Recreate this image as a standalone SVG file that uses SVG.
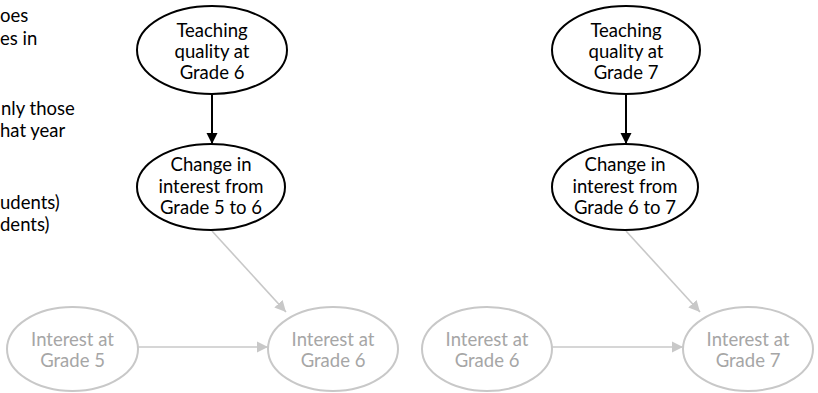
<svg xmlns="http://www.w3.org/2000/svg" width="818" height="393" viewBox="0 0 818 393">
<style>
  .t { font-family: Lato, "Liberation Sans", sans-serif; font-size: 18.5px; text-anchor: middle; }
  .dk ellipse { fill: #ffffff; stroke: #000000; stroke-width: 2; }
  .dk text { fill: #000000; }
  .lt ellipse { fill: #ffffff; stroke: #c8c8c8; stroke-width: 2; }
  .lt text { fill: #a6a6a6; }
  .side { font-family: Lato, "Liberation Sans", sans-serif; font-size: 18.5px; fill: #000000; }
  .cb { stroke: #000000; stroke-width: 2; fill: none; }
  .cg { stroke: #c8c8c8; stroke-width: 1.6; fill: none; }
</style>
<defs>
  <marker id="ab" viewBox="0 0 10 10" refX="10" refY="5" markerWidth="5.5" markerHeight="6.5" markerUnits="strokeWidth" orient="auto">
    <path d="M0,0 L10,5 L0,10 z" fill="#000000"/>
  </marker>
  <marker id="ag" viewBox="0 0 10 10" refX="10" refY="5" markerWidth="7" markerHeight="7" markerUnits="strokeWidth" orient="auto">
    <path d="M0,0 L10,5 L0,10 z" fill="#c8c8c8"/>
  </marker>
</defs>

<g id="side-text">
  <text class="side" x="0" y="22">oes</text>
  <text class="side" x="0" y="45">es in</text>
  <text class="side" x="1" y="115">nly those</text>
  <text class="side" x="0" y="137">hat year</text>
  <text class="side" x="0" y="209">udents)</text>
  <text class="side" x="0" y="231">dents)</text>
</g>

<g id="connectors">
  <line class="cb" x1="212" y1="95" x2="212" y2="144" marker-end="url(#ab)"/>
  <line class="cb" x1="626" y1="95" x2="626" y2="144" marker-end="url(#ab)"/>
  <line class="cg" x1="212" y1="231" x2="286" y2="312" marker-end="url(#ag)"/>
  <line class="cg" x1="626" y1="231" x2="700" y2="312" marker-end="url(#ag)"/>
  <line class="cg" x1="138" y1="347" x2="268" y2="347" marker-end="url(#ag)"/>
  <line class="cg" x1="552" y1="347" x2="683" y2="347" marker-end="url(#ag)"/>
</g>

<g id="teach6" class="dk">
  <ellipse cx="212" cy="50" rx="75" ry="44"/>
  <text class="t" x="212" y="37">Teaching</text>
  <text class="t" x="212" y="58">quality at</text>
  <text class="t" x="212" y="79">Grade 6</text>
</g>
<g id="change56" class="dk">
  <ellipse cx="211" cy="187" rx="74" ry="43"/>
  <text class="t" x="211" y="171">Change in</text>
  <text class="t" x="211" y="193">interest from</text>
  <text class="t" x="211" y="214">Grade 5 to 6</text>
</g>
<g id="teach7" class="dk">
  <ellipse cx="626" cy="50" rx="74" ry="44"/>
  <text class="t" x="626" y="37">Teaching</text>
  <text class="t" x="626" y="58">quality at</text>
  <text class="t" x="626" y="79">Grade 7</text>
</g>
<g id="change67" class="dk">
  <ellipse cx="625" cy="187" rx="73" ry="43"/>
  <text class="t" x="625" y="171">Change in</text>
  <text class="t" x="625" y="193">interest from</text>
  <text class="t" x="625" y="214">Grade 6 to 7</text>
</g>
<g id="int5" class="lt">
  <ellipse cx="72.5" cy="349" rx="65.5" ry="42"/>
  <text class="t" x="72.5" y="346">Interest at</text>
  <text class="t" x="72.5" y="367">Grade 5</text>
</g>
<g id="int6a" class="lt">
  <ellipse cx="333" cy="349" rx="65" ry="42"/>
  <text class="t" x="333" y="346">Interest at</text>
  <text class="t" x="333" y="367">Grade 6</text>
</g>
<g id="int6b" class="lt">
  <ellipse cx="487" cy="349" rx="65" ry="42"/>
  <text class="t" x="487" y="346">Interest at</text>
  <text class="t" x="487" y="367">Grade 6</text>
</g>
<g id="int7" class="lt">
  <ellipse cx="748" cy="349" rx="65" ry="42"/>
  <text class="t" x="748" y="346">Interest at</text>
  <text class="t" x="748" y="367">Grade 7</text>
</g>
</svg>
